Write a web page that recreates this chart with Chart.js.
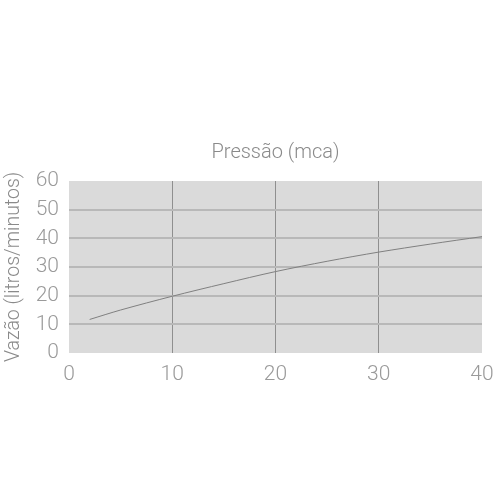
<!DOCTYPE html>
<html><head><meta charset="utf-8">
<style>html,body{margin:0;padding:0;background:#fff}</style>
<script src="https://cdn.jsdelivr.net/npm/chart.js@4.4.1/dist/chart.umd.min.js"></script>
</head>
<body>
<canvas id="c" width="500" height="500"></canvas>
<script>
const pressure = [2, 5, 10, 15, 20, 25, 30, 35, 40];
const flow = [11.7, 15.0, 19.8, 24.2, 28.4, 32.0, 35.2, 38.0, 40.6];
const xTitle = 'Pressão (mca)';
const yTitle = 'Vazão (litros/minutos)';

const bgPlugin = {
  id: 'plotBg',
  beforeDraw(chart) {
    const a = chart.chartArea, ctx = chart.ctx;
    ctx.save();
    ctx.fillStyle = '#dadada';
    ctx.fillRect(a.left, a.top, a.right - a.left, a.bottom - a.top);
    ctx.restore();
  }
};

new Chart(document.getElementById('c'), {
  type: 'line',
  data: {
    datasets: [{
      data: pressure.map((p, i) => ({x: p, y: flow[i]})),
      borderColor: '#808080',
      borderWidth: 1,
      pointRadius: 0,
      tension: 0.3,
      fill: false
    }]
  },
  options: {
    responsive: false,
    animation: false,
    devicePixelRatio: 1,
    layout: {padding: {top: 141, left: 0, right: 18, bottom: 0}},
    plugins: {
      legend: {display: false},
      tooltip: {enabled: false},
      title: {
        display: true, text: xTitle, fullSize: false,
        color: '#8a8a8a',
        font: {family: 'Roboto', size: 20, weight: '300', lineHeight: 1.2},
        padding: {top: 0, bottom: 16}
      }
    },
    scales: {
      x: {
        type: 'linear', min: 0, max: 40,
        afterFit(s) { s.height = 147; s.paddingLeft = 0; s.paddingRight = 0; },
        ticks: {stepSize: 10, color: '#9a9a9a', padding: 9,
          font: {family: 'Roboto', size: 21, weight: '300'}},
        grid: {
          drawTicks: false,
          color: c => (c.tick && (c.tick.value === 0 || c.tick.value === 40)) ? 'rgba(0,0,0,0)' : '#8f8f8f',
          lineWidth: 1
        },
        border: {display: false}
      },
      y: {
        min: 0, max: 60,
        afterFit(s) { s.width = 69; s.paddingTop = 0; s.paddingBottom = 0; },
        ticks: {stepSize: 10, color: '#9a9a9a', padding: 10,
          font: {family: 'Roboto', size: 21, weight: '300'}},
        title: {display: true, text: yTitle, color: '#8a8a8a',
          font: {family: 'Roboto', size: 19.5, weight: '300', lineHeight: 1.2},
          padding: {top: 2, bottom: 0}},
        grid: {
          drawTicks: false,
          color: c => (c.tick && (c.tick.value === 0 || c.tick.value === 60)) ? 'rgba(0,0,0,0)' : '#b8b8b8',
          lineWidth: 2
        },
        border: {display: false}
      }
    }
  },
  plugins: [bgPlugin]
});
</script>
</body></html>
